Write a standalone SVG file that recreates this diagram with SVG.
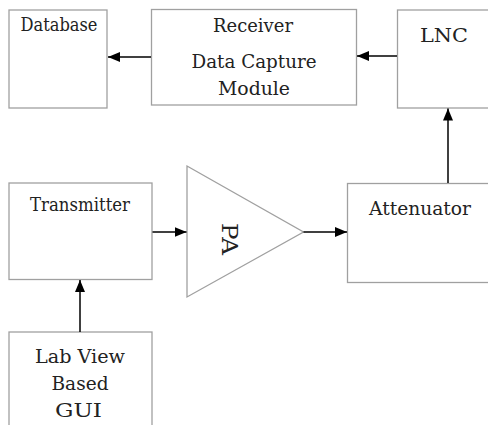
<svg xmlns="http://www.w3.org/2000/svg" width="488" height="425" viewBox="0 0 488 425">
  <defs>
    <style>
      .box { fill: #ffffff; stroke: #a0a0a0; stroke-width: 1.3; }
      text { font-family: 'DejaVu Serif', serif; fill: #222222; text-anchor: middle; }
      .lbl { font-size: 18px; }
      .pa { font-size: 22px; }
      .conn { stroke: #000000; stroke-width: 1.5; fill: none; marker-end: url(#arrow); }
    </style>
    <marker id="arrow" markerUnits="userSpaceOnUse" markerWidth="14" markerHeight="12" refX="12" refY="5" orient="auto">
      <path d="M0,0 L12,5 L0,10 Z" fill="#000000"/>
    </marker>
  </defs>

  <rect width="488" height="425" fill="#ffffff"/>

  <g id="database">
    <rect class="box" x="9" y="10" width="98" height="98"/>
    <text class="lbl" x="59" y="31" textLength="77" lengthAdjust="spacingAndGlyphs">Database</text>
  </g>

  <g id="receiver">
    <rect class="box" x="151.5" y="9.5" width="205" height="95.5"/>
    <text class="lbl" x="253" y="32" textLength="80" lengthAdjust="spacingAndGlyphs">Receiver</text>
    <text class="lbl" x="254" y="68" textLength="125" lengthAdjust="spacingAndGlyphs">Data Capture</text>
    <text class="lbl" x="254" y="95" textLength="72" lengthAdjust="spacingAndGlyphs">Module</text>
  </g>

  <g id="lnc">
    <rect class="box" x="397.5" y="10" width="100" height="98"/>
    <text class="lbl" x="444" y="42" textLength="48" lengthAdjust="spacingAndGlyphs">LNC</text>
  </g>

  <g id="transmitter">
    <rect class="box" x="9" y="183" width="143" height="96.5"/>
    <text class="lbl" x="80" y="211" textLength="100" lengthAdjust="spacingAndGlyphs">Transmitter</text>
  </g>

  <g id="pa">
    <polygon class="box" points="187,166 303.5,232 187,297"/>
    <text class="pa" transform="translate(222,239) rotate(90)" x="0" y="0" textLength="32" lengthAdjust="spacingAndGlyphs">PA</text>
  </g>

  <g id="attenuator">
    <rect class="box" x="347.5" y="183.5" width="150" height="99"/>
    <text class="lbl" x="420" y="215" textLength="102" lengthAdjust="spacingAndGlyphs">Attenuator</text>
  </g>

  <g id="gui">
    <rect class="box" x="9" y="332" width="143" height="100"/>
    <text class="lbl" x="80" y="363" textLength="90" lengthAdjust="spacingAndGlyphs">Lab View</text>
    <text class="lbl" x="80" y="390" textLength="57" lengthAdjust="spacingAndGlyphs">Based</text>
    <text class="lbl" x="78.5" y="416.5" textLength="47" lengthAdjust="spacingAndGlyphs">GUI</text>
  </g>

  <g id="connectors">
    <line class="conn" x1="151" y1="57" x2="108" y2="57"/>
    <line class="conn" x1="397" y1="56" x2="357" y2="56"/>
    <line class="conn" x1="448" y1="183" x2="448" y2="108.5"/>
    <line class="conn" x1="152.5" y1="232" x2="186.5" y2="232"/>
    <line class="conn" x1="303.5" y1="232" x2="347" y2="232"/>
    <line class="conn" x1="80" y1="332" x2="80" y2="280"/>
  </g>
</svg>
